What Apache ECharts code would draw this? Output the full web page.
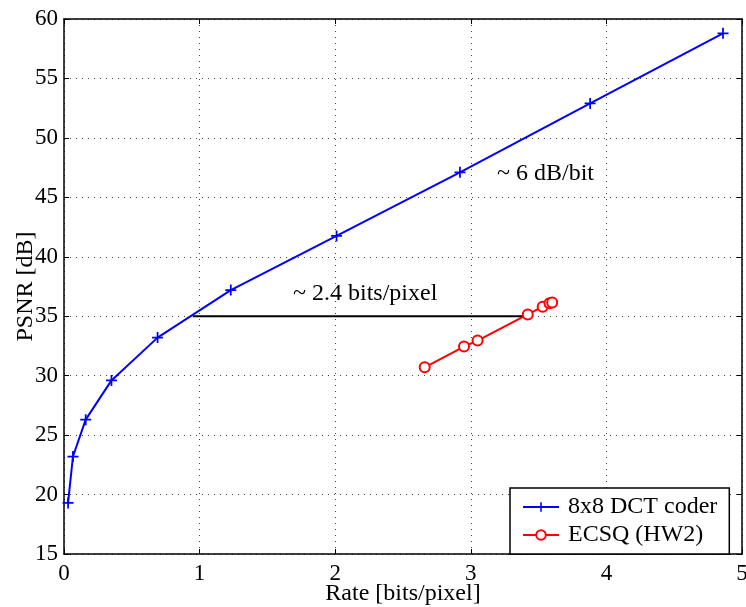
<!DOCTYPE html>
<html>
<head>
<meta charset="utf-8">
<script src="https://cdn.jsdelivr.net/npm/echarts@6/dist/echarts.min.js"></script>
<style>
  html, body { margin: 0; padding: 0; background: #fff; }
  #main { width: 746px; height: 607px; }
</style>
</head>
<body>
<div id="main"></div>
<script>
  // values
  var dctRate = [0.03, 0.066, 0.16, 0.35, 0.69, 1.23, 2.01, 2.92, 3.88, 4.86];
  var dctPsnr = [19.3, 23.2, 26.3, 29.6, 33.2, 37.2, 41.75, 47.1, 52.9, 58.8];
  var ecsqRate = [2.66, 2.95, 3.05, 3.42, 3.53, 3.58, 3.60];
  var ecsqPsnr = [30.7, 32.45, 32.95, 35.15, 35.8, 36.1, 36.15];
  var gapRate = [0.95, 3.42];
  var gapPsnr = [35, 35];

  var FONT = '"Liberation Serif", "DejaVu Serif", serif';

  function pairs(xs, ys) {
    return xs.map(function (x, i) { return [x, ys[i]]; });
  }

  var plus = 'path://M0,4.2L10,4.2L10,5.8L0,5.8Z M4.2,0L5.8,0L5.8,10L4.2,10Z';

  var chart = echarts.init(document.getElementById('main'));

  // top / right frame lines, ticks only
  var frameAxis = {
    axisLine: { show: true, onZero: false, lineStyle: { color: '#000', width: 1.5 } },
    axisTick: { show: true, inside: true, length: 5, lineStyle: { color: '#000' } },
    axisLabel: { show: false },
    splitLine: { show: false }
  };

  var option = {
    animation: false,
    textStyle: { fontFamily: FONT },
    grid: { left: 64, right: 4, top: 19, bottom: 53, containLabel: false, outerBoundsMode: 'none' },
    xAxis: [{
      type: 'value', min: 0, max: 5, interval: 1,
      name: 'Rate [bits/pixel]', nameLocation: 'middle', nameGap: 28, nameMoveOverlap: false,
      nameTextStyle: { color: '#000', fontSize: 24, fontFamily: FONT },
      axisLine: { show: true, onZero: false, lineStyle: { color: '#000', width: 1.5 } },
      axisTick: { show: true, inside: true, length: 5, lineStyle: { color: '#000' } },
      axisLabel: { color: '#000', fontSize: 23, fontFamily: FONT, margin: 8 },
      splitLine: { show: true, lineStyle: { color: '#444', type: [1, 5], width: 1 } }
    }, Object.assign({ type: 'value', position: 'top', min: 0, max: 5, interval: 1 }, frameAxis)],
    yAxis: [{
      type: 'value', min: 15, max: 60, interval: 5,
      name: 'PSNR [dB]', nameLocation: 'middle', nameGap: 26, nameRotate: 90, nameMoveOverlap: false,
      nameTextStyle: { color: '#000', fontSize: 24, fontFamily: FONT },
      axisLine: { show: true, onZero: false, lineStyle: { color: '#000', width: 1.5 } },
      axisTick: { show: true, inside: true, length: 5, lineStyle: { color: '#000' } },
      axisLabel: { color: '#000', fontSize: 23, fontFamily: FONT, margin: 6 },
      splitLine: { show: true, lineStyle: { color: '#444', type: [1, 5], width: 1 } }
    }, Object.assign({ type: 'value', position: 'right', min: 15, max: 60, interval: 5 }, frameAxis)],
    legend: {
      data: ['8x8 DCT coder', 'ECSQ (HW2)'],
      orient: 'vertical',
      left: 510, top: 488,
      width: 223,
      padding: [7, 12, 7, 12],
      itemGap: 4,
      itemWidth: 36, itemHeight: 12,
      backgroundColor: '#fff',
      borderColor: '#000', borderWidth: 1.5,
      textStyle: { color: '#000', fontSize: 24, fontFamily: FONT, padding: [0, 0, 0, 4] }
    },
    series: [{
      name: '8x8 DCT coder',
      type: 'line',
      data: pairs(dctRate, dctPsnr),
      symbol: plus, symbolSize: 11,
      showAllSymbol: true,
      lineStyle: { color: '#0000ff', width: 2 },
      itemStyle: { color: '#0000ff', borderWidth: 0 },
      z: 3
    }, {
      name: 'ECSQ (HW2)',
      type: 'line',
      data: pairs(ecsqRate, ecsqPsnr),
      symbol: 'emptyCircle', symbolSize: 10,
      showAllSymbol: true,
      lineStyle: { color: '#ff0000', width: 2 },
      itemStyle: { color: '#ff0000', borderColor: '#ff0000', borderWidth: 2 },
      z: 3
    }, {
      name: 'gap',
      type: 'line',
      data: pairs(gapRate, gapPsnr),
      symbol: 'none',
      lineStyle: { color: '#000', width: 2 },
      z: 2
    }],
    graphic: [{
      type: 'text', left: 293, top: 282,
      style: { text: '~ 2.4 bits/pixel', fill: '#000', font: '24px ' + FONT }
    }, {
      type: 'text', left: 497, top: 162,
      style: { text: '~ 6 dB/bit', fill: '#000', font: '24px ' + FONT }
    }]
  };

  chart.setOption(option);
</script>
</body>
</html>
